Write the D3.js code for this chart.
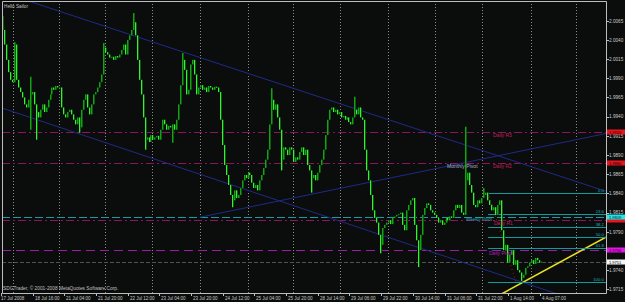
<!DOCTYPE html>
<html lang="en">
<head>
<meta charset="UTF-8">
<script src="https://d3js.org/d3.v7.min.js"></script>
<title>GBPUSD H1 - Hello Sailor</title>
<style>
    body {
        margin: 0;
        background: #0b0d0d;
    }
    svg {
        display: block;
        font-family: "Liberation Sans", Arial, sans-serif;
    }
</style>
</head>
<body>
<script>
    // hourly closes (17 Jul 2008 -> 4 Aug 2008)
    const firstOpen = 2.0068;
    const closes = [
        2.0053, 2.0034, 2.0014, 1.9998, 1.9988, 1.9985, 2.0034, 1.9988, 1.9978, 1.9972,
        1.9965, 1.9956, 1.9952, 1.9962, 1.9969, 1.9972, 1.9956, 1.9946, 1.9939, 1.9949,
        1.9956, 1.9946, 1.9952, 1.9962, 1.9969, 1.9978, 1.9975, 1.9980, 1.9978, 1.9978,
        1.9952, 1.9943, 1.9939, 1.9946, 1.9949, 1.9943, 1.9936, 1.9930, 1.9939, 1.9926,
        1.9949, 1.9962, 1.9969, 1.9952, 1.9943, 1.9956, 1.9969, 1.9972, 1.9978, 1.9985,
        1.9995, 2.0030, 2.0024, 2.0021, 2.0017, 2.0018, 2.0014, 2.0019, 2.0017, 2.0021,
        2.0027, 2.0034, 2.0021, 2.0040, 2.0046, 2.0053, 2.0063, 2.0046, 2.0014, 1.9988,
        1.9969, 1.9939, 1.9910, 1.9913, 1.9907, 1.9916, 1.9910, 1.9913, 1.9915, 1.9910,
        1.9923, 1.9936, 1.9930, 1.9923, 1.9928, 1.9926, 1.9930, 1.9923, 1.9936, 1.9956,
        1.9981, 2.0014, 2.0001, 1.9969, 1.9975, 2.0008, 2.0014, 1.9995, 1.9969, 1.9978,
        1.9981, 1.9975, 1.9978, 1.9972, 1.9980, 1.9978, 1.9975, 1.9979, 1.9978, 1.9972,
        1.9936, 1.9903, 1.9877, 1.9864, 1.9851, 1.9838, 1.9831, 1.9844, 1.9834, 1.9838,
        1.9847, 1.9857, 1.9864, 1.9860, 1.9867, 1.9864, 1.9854, 1.9847, 1.9851, 1.9844,
        1.9857, 1.9864, 1.9873, 1.9884, 1.9897, 1.9930, 1.9962, 1.9949, 1.9956, 1.9939,
        1.9923, 1.9884, 1.9900, 1.9897, 1.9890, 1.9900, 1.9897, 1.9881, 1.9887, 1.9884,
        1.9894, 1.9900, 1.9890, 1.9897, 1.9877, 1.9870, 1.9860, 1.9864, 1.9857, 1.9867,
        1.9877, 1.9884, 1.9897, 1.9916, 1.9936, 1.9949, 1.9952, 1.9946, 1.9949, 1.9943,
        1.9946, 1.9939, 1.9941, 1.9936, 1.9939, 1.9933, 1.9930, 1.9939, 1.9949, 1.9943,
        1.9952, 1.9939, 1.9936, 1.9897, 1.9870, 1.9857, 1.9838, 1.9818, 1.9808, 1.9802,
        1.9786, 1.9773, 1.9795, 1.9799, 1.9802, 1.9805, 1.9800, 1.9808, 1.9810, 1.9812,
        1.9813, 1.9815, 1.9799, 1.9792, 1.9818, 1.9825, 1.9831, 1.9834, 1.9799, 1.9779,
        1.9766, 1.9786, 1.9812, 1.9821, 1.9827, 1.9825, 1.9818, 1.9815, 1.9812, 1.9808,
        1.9802, 1.9805, 1.9799, 1.9802, 1.9808, 1.9805, 1.9810, 1.9808, 1.9818, 1.9825,
        1.9821, 1.9825, 1.9815, 1.9812, 1.9857, 1.9867, 1.9851, 1.9841, 1.9825, 1.9822,
        1.9831, 1.9827, 1.9834, 1.9838, 1.9841, 1.9831, 1.9825, 1.9818, 1.9822, 1.9812,
        1.9825, 1.9831, 1.9792, 1.9766, 1.9773, 1.9750, 1.9760, 1.9766, 1.9747, 1.9753,
        1.9740, 1.9737, 1.9730, 1.9734, 1.9743, 1.9745, 1.9750, 1.9753, 1.9748, 1.9756,
        1.9753, 1.9750, 1.9751
    ];
    // long shadows: [bar, high, low]
    const wicks = [
        [0, 2.0071, null], [6, 2.0037, null], [14, 1.9992, 1.9923], [17, null, 1.9910],
        [39, null, 1.9919], [51, 2.0036, null], [66, 2.0075, null], [72, null, 1.9897],
        [86, null, 1.9906], [91, 2.0023, null], [116, null, 1.9822], [136, 1.9977, null],
        [141, null, 1.9870], [156, null, 1.9841], [178, 1.9966, null], [191, null, 1.9762],
        [210, null, 1.9744], [234, 1.9927, null], [243, 1.9847, null], [262, null, 1.9726]
    ];

    const priceTicks = [1.9715, 1.9740, 1.9765, 1.9790, 1.9815, 1.9840, 1.9865, 1.9890,
        1.9915, 1.9940, 1.9965, 1.9990, 2.0015, 2.0040, 2.0065];
    const timeLabels = ["17 Jul 2008", "18 Jul 16:00", "21 Jul 04:00", "21 Jul 20:00",
        "22 Jul 12:00", "23 Jul 04:00", "23 Jul 20:00", "24 Jul 12:00", "25 Jul 04:00",
        "25 Jul 20:00", "28 Jul 14:00", "29 Jul 06:00", "29 Jul 22:00", "30 Jul 14:00",
        "31 Jul 06:00", "31 Jul 22:00", "1 Aug 14:00", "4 Aug 07:00"];
    const gridBars = [5.5, 29, 52, 76, 100, 124.5, 147, 170.5, 195, 218.5, 242.5, 267, 290];

    // pivot levels
    const levelNames = ["Daily R3", "Daily R2", "Weekly Pivot", "Daily R1", "Daily Pivot"];
    const levelPrices = [1.9920, 1.9880, 1.9809, 1.9806, 1.9766];
    const monthlyPivot = 1.9880;
    const bid = 1.9751;

    // fibo retracement
    const fibRatios = [0.0, 23.6, 38.2, 50.0, 61.8, 100.0];
    const fibHigh = 1.9841, fibLow = 1.9725, fibStartBar = 245.5;

    // trend lines: two anchor points [bar, price]
    const trendUpper = [[20, 2.0085], [240, 1.9898]];
    const trendLower = [[20, 1.9934], [240, 1.9744]];
    const trendRise = [[100, 1.9809], [305, 1.9918]];
    const trendYellow = [[253, 1.9710], [305, 1.9783]];

    const W = 625, H = 302;
    const plot = { left: 2, right: 606, top: 1, bottom: 293 };

    const x = d3.scaleLinear().domain([-1, 305]).range([0, 605.9]);
    const y = d3.scaleLinear().domain([1.9710, 2.0092]).range([293.2, 0]);

    const svg = d3.select("body").append("svg")
        .attr("width", W)
        .attr("height", H);

    svg.append("rect").attr("width", W).attr("height", H).attr("fill", "#0b0d0d");

    svg.append("clipPath").attr("id", "clip")
        .append("rect")
        .attr("x", plot.left).attr("y", plot.top)
        .attr("width", plot.right - plot.left).attr("height", plot.bottom - plot.top);

    const g = svg.append("g").attr("clip-path", "url(#clip)");

    // vertical grid
    g.selectAll(".grid")
        .data(gridBars)
        .enter().append("line")
        .attr("x1", d => Math.round(x(d)) + 0.5)
        .attr("x2", d => Math.round(x(d)) + 0.5)
        .attr("y1", plot.top).attr("y2", plot.bottom)
        .attr("stroke", "#8a8a80")
        .attr("stroke-width", 1)
        .attr("stroke-dasharray", "1,2");

    // horizontal levels
    const levelStyle = {
        "Daily R3": { stroke: "#8c1460", dash: "8,3,2,3", text: "#c0205a" },
        "Daily R2": { stroke: "#8c1460", dash: "8,3,2,3", text: "#c0205a" },
        "Weekly Pivot": { stroke: "#1a9ca4", dash: "8,3", text: "#1fa8b0" },
        "Daily R1": { stroke: "#8c1460", dash: "8,3,2,3", text: "#c0205a" },
        "Daily Pivot": { stroke: "#a01aa8", dash: "9,5", text: "#b020b8" }
    };

    levelNames.forEach((name, k) => {
        const yy = Math.round(y(levelPrices[k])) + 0.5;
        g.append("line")
            .attr("x1", plot.left).attr("x2", plot.right)
            .attr("y1", yy).attr("y2", yy)
            .attr("stroke", levelStyle[name].stroke)
            .attr("stroke-dasharray", levelStyle[name].dash);
    });

    // bid line
    g.append("line")
        .attr("x1", plot.left).attr("x2", plot.right)
        .attr("y1", Math.round(y(bid)) + 0.5).attr("y2", Math.round(y(bid)) + 0.5)
        .attr("stroke", "#525252")
        .attr("stroke-dasharray", "4,2");

    // trend lines, extended across the plot
    function ray(pts, fromBar, toBar, color, width) {
        const slope = (pts[1][1] - pts[0][1]) / (pts[1][0] - pts[0][0]);
        const p = b => pts[0][1] + slope * (b - pts[0][0]);
        g.append("line")
            .attr("x1", x(fromBar)).attr("y1", y(p(fromBar)))
            .attr("x2", x(toBar)).attr("y2", y(p(toBar)))
            .attr("stroke", color)
            .attr("stroke-width", width);
    }
    ray(trendUpper, -1, 305, "#1e2a86", 1);
    ray(trendLower, -1, 305, "#1e2a86", 1);
    ray(trendRise, trendRise[0][0], 305, "#1e2a86", 1);
    ray(trendYellow, 245, 305, "#e6e022", 1.6);

    // fibo
    const fibLevels = fibRatios.map(r => fibHigh - (fibHigh - fibLow) * r / 100);
    g.append("line")
        .attr("x1", x(fibStartBar)).attr("y1", y(fibHigh))
        .attr("x2", x(fibStartBar + 14)).attr("y2", y(fibLow))
        .attr("stroke", "#b01818")
        .attr("stroke-dasharray", "1,3");
    g.selectAll(".fib")
        .data(fibLevels)
        .enter().append("line")
        .attr("x1", x(fibStartBar)).attr("x2", plot.right)
        .attr("y1", d => Math.round(y(d)) + 0.5)
        .attr("y2", d => Math.round(y(d)) + 0.5)
        .attr("stroke", "#0f9c9c");
    g.selectAll(".fibtxt")
        .data(fibRatios)
        .enter().append("text")
        .attr("x", plot.right - 2)
        .attr("y", (d, k) => Math.round(y(fibLevels[k])) - 1)
        .attr("text-anchor", "end")
        .attr("font-size", "4.3px")
        .attr("fill", "#1fb0b0")
        .text(d => d.toFixed(1));

    // candles
    const bars = closes.map((c, i) => {
        const o = i === 0 ? firstOpen : closes[i - 1];
        return { i: i, o: o, c: c, h: Math.max(o, c), l: Math.min(o, c) };
    });
    wicks.forEach(w => {
        const b = bars[w[0]];
        if (w[1] !== null) b.h = Math.max(b.h, w[1]);
        if (w[2] !== null) b.l = Math.min(b.l, w[2]);
    });
    // dim shadow column next to each bar, then the bar itself
    g.selectAll(".shade")
        .data(bars)
        .enter().append("rect")
        .attr("x", d => Math.round(x(d.i)) + 1)
        .attr("width", 1)
        .attr("y", d => y(d.h))
        .attr("height", d => Math.max(1, y(d.l) - y(d.h)))
        .attr("fill", "#0c5a0c");
    g.selectAll(".bar")
        .data(bars)
        .enter().append("rect")
        .attr("x", d => Math.round(x(d.i)))
        .attr("width", 1)
        .attr("y", d => y(d.h))
        .attr("height", d => Math.max(1, y(d.l) - y(d.h)))
        .attr("fill", d => d.c < d.o ? "#38ee38" : "#12a412");

    // level labels
    const labelX = { "Daily R3": 493, "Daily R2": 493, "Weekly Pivot": 466, "Daily R1": 494, "Daily Pivot": 489 };
    levelNames.forEach((name, k) => {
        const yy = Math.round(y(levelPrices[k]));
        g.append("text")
            .attr("x", labelX[name])
            .attr("y", yy + (name === "Weekly Pivot" ? 4 : 5))
            .attr("font-size", name === "Weekly Pivot" ? "4.5px" : "5px")
            .attr("fill", levelStyle[name].text)
            .text(name);
    });
    g.append("text")
        .attr("x", 447).attr("y", Math.round(y(monthlyPivot)) + 5)
        .attr("font-size", "5.1px")
        .attr("fill", "#a8b0d0")
        .text("Monthly Pivot");

    // frame
    svg.append("path")
        .attr("d", `M${plot.left + 0.5},${plot.bottom + 0.5}V${plot.top + 0.5}H${plot.right + 0.5}V${plot.bottom + 0.5}H${plot.left + 0.5}`)
        .attr("fill", "none")
        .attr("stroke", "#bdbdbd");

    // price axis
    const axis = svg.append("g");
    axis.selectAll(".tick")
        .data(priceTicks)
        .enter().append("line")
        .attr("x1", plot.right).attr("x2", plot.right + 3)
        .attr("y1", d => Math.round(y(d)) + 0.5).attr("y2", d => Math.round(y(d)) + 0.5)
        .attr("stroke", "#bdbdbd");

    // colored price boxes: [price, fill, text colour, show text]
    const boxes = [
        [levelPrices[0], "#e8141e", "#200000", true],
        [levelPrices[1], "#e8141e", "#200000", true],
        [levelPrices[3], "#e8141e", "#200000", false],
        [levelPrices[2], "#22e6e6", "#002020", true],
        [levelPrices[4], "#e614e6", "#200020", true],
        [bid, "#f4f4f4", "#000000", true]
    ];
    const boxY = boxes.map(b => Math.round(y(b[0])));

    // tick labels that would sit under a price box are hidden, like the terminal does
    axis.selectAll(".lbl")
        .data(priceTicks.filter(d => !boxY.some(by => Math.abs(by - y(d)) < 2.5)))
        .enter().append("text")
        .attr("x", plot.right + 3)
        .attr("y", d => y(d) + 1.8)
        .attr("font-size", "4.7px")
        .attr("fill", "#c8c8c8")
        .text(d => d.toFixed(4));

    boxes.forEach((b, k) => {
        const yy = boxY[k];
        axis.append("rect")
            .attr("x", plot.right + 1).attr("y", yy - 2.5)
            .attr("width", W - plot.right - 1).attr("height", 5)
            .attr("fill", b[1]);
        if (b[3]) {
            axis.append("text")
                .attr("x", plot.right + 3).attr("y", yy + 2)
                .attr("font-size", "4px")
                .attr("fill", b[2])
                .text(b[0].toFixed(4));
        }
    });

    // time axis
    const tAxis = svg.append("g");
    timeLabels.forEach((t, k) => {
        const xx = Math.round(x(k * 16)) - 1;
        tAxis.append("line")
            .attr("x1", xx + 0.5).attr("x2", xx + 0.5)
            .attr("y1", plot.bottom).attr("y2", plot.bottom + 3)
            .attr("stroke", "#bdbdbd");
        tAxis.append("text")
            .attr("x", k === 0 ? 1 : xx + 2)
            .attr("y", 300)
            .attr("font-size", "4.5px")
            .attr("fill", "#c8c8c8")
            .text(t);
    });

    // captions
    svg.append("text")
        .attr("x", 4).attr("y", 8)
        .attr("font-size", "4.7px")
        .attr("fill", "#c0c0c0")
        .text("Hello Sailor");
    svg.append("text")
        .attr("x", 3).attr("y", 290)
        .attr("font-size", "4.8px")
        .attr("fill", "#c0c0c0")
        .text("SDGTrader, © 2001-2008 MetaQuotes Software Corp.");
</script>
</body>
</html>
